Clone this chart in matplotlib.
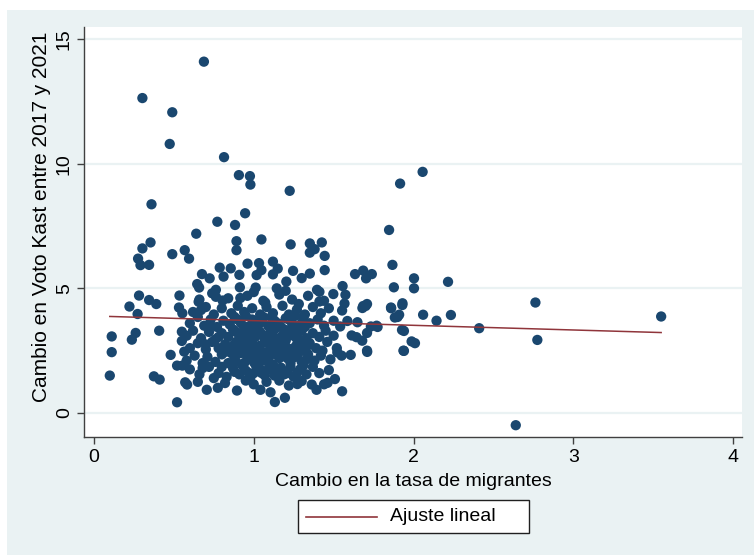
import matplotlib
matplotlib.use("Agg")
import matplotlib.pyplot as plt
from matplotlib.patches import Rectangle
from matplotlib.lines import Line2D
import numpy as np

# Stata s2color-like palette
fondo = "#eaf2f3"
azul = "#1a476f"
granate = "#90353b"

# puntos aislados / zona exterior: (cambio tasa migrantes, cambio voto Kast)
atipicos = [(0.688, 14.09), (0.303, 12.63), (0.49, 12.06), (0.474, 10.79), (0.814, 10.26),
            (0.907, 9.54), (0.976, 9.5), (0.979, 9.16), (1.225, 8.91), (2.057, 9.67),
            (1.916, 9.2), (0.36, 8.37), (0.946, 8.01), (0.772, 7.67), (0.883, 7.54),
            (1.847, 7.34), (0.64, 7.19), (1.048, 6.96), (0.892, 6.89), (0.892, 6.53),
            (0.354, 6.84), (0.303, 6.6), (0.49, 6.37), (0.568, 6.53), (0.595, 6.19),
            (0.276, 6.19), (0.291, 5.93), (0.345, 5.94), (1.231, 6.76), (1.351, 6.8),
            (1.426, 6.84), (1.351, 6.43), (1.381, 6.57), (1.444, 6.3),
            (3.55, 3.87), (2.64, -0.49), (2.763, 4.43), (2.775, 2.93), (2.411, 3.4)]

borde = [(0.961, 5.99), (1.033, 6.01), (1.12, 6.07), (1.048, 5.73), (1.018, 5.53),
         (1.15, 5.79), (1.12, 5.56), (1.246, 5.7), (1.204, 5.27), (1.3, 5.41),
         (1.351, 5.59), (1.444, 5.73), (0.787, 5.83), (0.856, 5.8), (0.811, 5.47),
         (0.676, 5.57), (0.724, 5.4), (0.646, 5.17), (0.658, 5.03), (0.91, 5.54),
         (0.913, 5.04), (1.012, 5.03), (1.144, 5.0), (1.396, 4.94), (1.498, 4.77),
         (1.556, 5.09), (1.574, 4.74), (1.634, 5.57), (1.685, 5.71), (1.703, 5.4),
         (1.739, 5.57), (1.868, 5.94), (1.877, 5.04), (2.003, 5.4), (2.003, 5.0),
         (2.216, 5.26), (0.282, 4.71), (0.345, 4.53), (0.39, 4.37), (0.222, 4.27),
         (0.273, 3.97), (0.535, 4.71), (0.763, 4.94), (0.763, 4.66), (0.805, 4.51),
         (0.916, 4.61), (0.655, 4.46), (0.67, 4.13), (0.532, 4.23), (0.553, 4.0),
         (1.072, 4.43), (1.282, 4.37), (1.411, 4.47), (1.411, 4.86), (1.568, 4.39),
         (1.553, 4.11), (1.685, 4.29), (1.709, 4.37), (1.859, 4.23), (1.931, 4.4),
         (1.91, 3.94), (1.883, 3.83), (2.06, 3.94), (2.144, 3.7), (2.234, 3.93),
         (0.111, 3.07), (0.111, 2.44), (0.099, 1.5), (0.237, 2.94), (0.261, 3.21),
         (0.408, 3.3), (0.375, 1.47), (0.411, 1.34), (0.52, 0.43), (0.571, 1.23),
         (0.583, 1.14), (0.48, 2.33), (0.52, 1.9), (0.553, 1.9), (0.55, 2.89),
         (0.55, 3.26), (0.565, 2.46), (0.706, 0.93), (0.775, 1.01), (0.895, 0.9),
         (1.042, 0.93), (1.105, 0.83), (1.132, 0.44), (1.195, 0.61), (1.273, 1.16),
         (1.393, 0.93), (1.553, 0.87), (1.363, 1.14), (1.462, 1.21), (1.508, 1.36),
         (1.607, 2.33), (1.523, 2.43), (1.709, 2.5), (1.937, 2.5), (1.988, 2.87),
         (2.009, 2.8), (1.928, 3.33), (1.709, 3.21), (1.733, 3.47), (1.769, 3.5),
         (1.643, 3.04), (1.679, 2.9), (1.613, 3.11), (1.649, 3.64), (1.586, 3.69),
         (1.541, 3.47), (1.86, 4.2), (1.9, 3.85), (1.93, 4.33), (1.94, 2.49),
         (1.94, 3.29), (1.775, 3.45), (1.70, 4.29), (1.68, 4.21), (1.71, 2.45)]

# nucleo denso (estimado a ojo)
nucleo = [(0.65, 1.25), (0.82, 1.2), (0.95, 1.3), (1.0, 1.15), (1.08, 1.25), (1.16, 1.3),
          (1.22, 1.1), (1.3, 1.28), (1.44, 1.15),
          (0.6, 1.75), (0.66, 1.55), (0.72, 1.85), (0.78, 1.6), (0.83, 1.45), (0.87, 1.8),
          (0.91, 1.55), (0.95, 1.7), (0.98, 1.45), (1.02, 1.85), (1.05, 1.6), (1.09, 1.75),
          (1.13, 1.5), (1.17, 1.82), (1.21, 1.6), (1.25, 1.45), (1.29, 1.75), (1.33, 1.55),
          (1.37, 1.85), (1.41, 1.6), (1.47, 1.72), (0.75, 1.4), (1.0, 1.6), (1.15, 1.65),
          (0.58, 2.1), (0.63, 2.3), (0.68, 2.0), (0.71, 2.25), (0.76, 2.05), (0.8, 2.35),
          (0.84, 2.0), (0.88, 2.2), (0.92, 2.4), (0.94, 2.0), (0.97, 2.25), (1.0, 2.05),
          (1.03, 2.35), (1.06, 2.1), (1.1, 2.3), (1.12, 1.95), (1.16, 2.2), (1.19, 2.4),
          (1.23, 2.0), (1.26, 2.25), (1.3, 2.05), (1.34, 2.35), (1.38, 2.1), (1.42, 2.3),
          (1.48, 2.15), (1.55, 2.3), (0.86, 2.4), (1.08, 2.4),
          (0.6, 2.6), (0.65, 2.8), (0.7, 2.55), (0.74, 2.85), (0.78, 2.6), (0.82, 2.75),
          (0.86, 2.5), (0.89, 2.85), (0.93, 2.65), (0.96, 2.5), (0.99, 2.8), (1.02, 2.6),
          (1.05, 2.45), (1.07, 2.85), (1.11, 2.65), (1.14, 2.5), (1.18, 2.8), (1.21, 2.6),
          (1.24, 2.45), (1.27, 2.75), (1.31, 2.55), (1.35, 2.8), (1.39, 2.6), (1.43, 2.5),
          (1.46, 2.85), (1.52, 2.6), (0.9, 2.6), (1.1, 2.55),
          (0.58, 3.1), (0.62, 3.3), (0.67, 3.0), (0.72, 3.25), (0.76, 2.95), (0.8, 3.2),
          (0.84, 3.05), (0.87, 3.35), (0.91, 3.1), (0.95, 2.95), (0.98, 3.3), (1.01, 3.05),
          (1.04, 3.25), (1.07, 2.95), (1.1, 3.2), (1.13, 3.35), (1.16, 3.0), (1.2, 3.2),
          (1.23, 3.35), (1.26, 3.05), (1.3, 3.3), (1.33, 3.0), (1.37, 3.2), (1.41, 3.05),
          (1.45, 3.3), (1.5, 3.1), (0.93, 3.2), (1.18, 3.1),
          (0.6, 3.6), (0.65, 3.85), (0.69, 3.5), (0.73, 3.75), (0.77, 3.45), (0.81, 3.7),
          (0.85, 3.55), (0.88, 3.85), (0.92, 3.6), (0.96, 3.45), (0.99, 3.75), (1.03, 3.55),
          (1.06, 3.85), (1.09, 3.5), (1.13, 3.7), (1.17, 3.45), (1.2, 3.8), (1.24, 3.6),
          (1.28, 3.45), (1.31, 3.8), (1.35, 3.6), (1.4, 3.75), (1.44, 3.5), (1.5, 3.7),
          (0.62, 4.05), (0.7, 4.25), (0.75, 3.95), (0.8, 4.2), (0.86, 4.0), (0.9, 4.3),
          (0.94, 4.05), (0.99, 4.2), (1.04, 3.95), (1.08, 4.25), (1.12, 4.0), (1.18, 4.3),
          (1.22, 3.95), (1.27, 4.15), (1.32, 3.95), (1.37, 4.25), (1.42, 4.0), (1.47, 4.2),
          (0.66, 4.55), (0.74, 4.8), (0.84, 4.6), (0.96, 4.7), (1.06, 4.5), (1.16, 4.75),
          (1.24, 4.55), (1.34, 4.7), (1.44, 4.5), (1.0, 4.85), (1.2, 4.9)]

# mas puntos en la parte mas densa del nucleo
nucleo2 = [(0.88, 1.65), (0.93, 1.9), (0.97, 1.6), (1.01, 1.95), (1.04, 1.75), (1.07, 1.5),
           (1.11, 1.85), (1.14, 1.7), (1.19, 1.55), (1.23, 1.85), (1.27, 1.6), (1.31, 1.9),
           (0.89, 2.05), (0.96, 2.15), (1.02, 2.2), (1.09, 2.05), (1.14, 2.35), (1.21, 2.2),
           (1.28, 2.4), (1.33, 2.15),
           (0.87, 2.7), (0.91, 2.45), (0.95, 2.8), (1.0, 2.5), (1.04, 2.7), (1.09, 2.9),
           (1.13, 2.75), (1.16, 2.55), (1.2, 2.9), (1.25, 2.6), (1.29, 2.9), (1.33, 2.65),
           (0.89, 3.25), (0.94, 3.45), (0.98, 3.1), (1.02, 3.4), (1.06, 3.1), (1.12, 3.05),
           (1.15, 3.5), (1.19, 3.35), (1.22, 3.1), (1.28, 3.25), (1.32, 3.45),
           (0.9, 3.75), (0.95, 3.9), (1.01, 3.65), (1.05, 3.7), (1.11, 3.85), (1.15, 3.6),
           (1.22, 3.75), (1.26, 3.9), (1.3, 3.6),
           (0.7, 2.75), (0.73, 3.5), (0.78, 3.05), (0.82, 2.45), (0.68, 1.8), (0.8, 1.85)]

# ajuste lineal (intercepto, pendiente)
ajuste = [3.89, -0.187]

xticks = [0, 1, 2, 3, 4]
yticks = [0, 5, 10, 15]

pts = np.array(atipicos + borde + nucleo + nucleo2)
x, y = pts[:, 0], pts[:, 1]

plt.rcParams['font.family'] = ['Liberation Sans', 'DejaVu Sans']

W, H = 754, 555
fig = plt.figure(figsize=(W / 100, H / 100), dpi=100, facecolor="white")
fig.patches.append(Rectangle((7 / W, 0), 1, 1 - 10 / H, transform=fig.transFigure,
                             facecolor=fondo, edgecolor="none", zorder=-10))
ax = fig.add_axes([84 / W, 1 - 437 / H, (742 - 84) / W, (437 - 27) / H])
ax.set_facecolor("white")

for v in yticks:
    ax.axhline(v, color=fondo, lw=1.6, zorder=1)

ax.scatter(x, y, s=55, color=azul, edgecolors="none", zorder=3)

xl = np.array([x.min(), x.max()])
ax.plot(xl, ajuste[0] + ajuste[1] * xl, color=granate, lw=1.1, zorder=4)

ax.set_xlim(-0.0625, 4.056)
ax.set_ylim(-0.963, 15.48)
ax.set_xticks(xticks)
ax.set_yticks(yticks)
ax.set_yticklabels([str(v) for v in yticks], rotation=90, va="center")
ax.tick_params(axis="both", labelsize=14, length=5, width=1, color="#404040", pad=4)
ax.tick_params(axis="y", pad=3)
for s in ["top", "right"]:
    ax.spines[s].set_visible(False)
for s in ["left", "bottom"]:
    ax.spines[s].set_color("#404040")
    ax.spines[s].set_linewidth(1)

ax.set_xlabel("Cambio en la tasa de migrantes", fontsize=14, labelpad=5)
ax.set_ylabel("Cambio en Voto Kast entre 2017 y 2021", fontsize=15)
ax.yaxis.set_label_coords(-0.05, 0.538)

# leyenda estilo Stata (caja de ancho fijo)
fig.patches.append(Rectangle((298 / W, 1 - 533 / H), 231 / W, 33 / H, transform=fig.transFigure,
                             facecolor="white", edgecolor="#202020", lw=1))
fig.lines.append(Line2D([306 / W, 377 / W], [1 - 516.5 / H] * 2, transform=fig.transFigure,
                        color=granate, lw=1.2))
fig.text(390 / W, 1 - 516.5 / H, "Ajuste lineal", fontsize=14, va="center", ha="left")

fig.savefig("out.png", dpi=100, facecolor=fig.get_facecolor())
